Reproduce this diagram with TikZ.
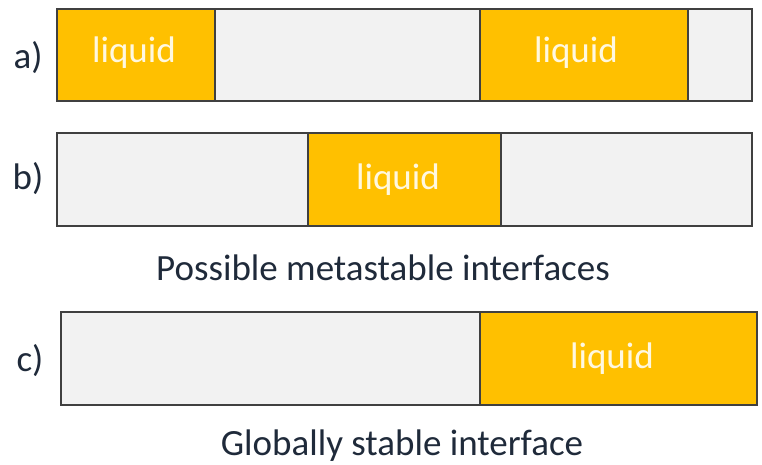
\documentclass[tikz,border=0pt]{standalone}
\usepackage{fontspec}
\setmainfont{Carlito}
\definecolor{liq}{HTML}{FFC000}
\definecolor{sol}{HTML}{F2F2F2}
\definecolor{edge}{HTML}{404040}
\definecolor{txt}{HTML}{1F2A3A}
\definecolor{liqtxt}{HTML}{FFF8E0}
\begin{document}
\begin{tikzpicture}[x=1pt,y=-1pt,
  bar/.style={draw=edge, line width=1.3pt, fill=sol, anchor=north west, inner sep=0pt, outer sep=0pt},
  liquidbox/.style={draw=edge, line width=1.3pt, fill=liq, anchor=north west, inner sep=0pt, outer sep=0pt},
  liqlabel/.style={text=liqtxt, inner sep=0pt, font=\fontsize{37}{42}\selectfont},
  lab/.style={text=txt, inner sep=0pt, font=\fontsize{37}{42}\selectfont}]
\useasboundingbox (0,0) rectangle (762,465);
% row a
\node[bar, minimum width=695pt, minimum height=92pt] (abar) at (57,9) {};
\node[liquidbox, minimum width=158pt, minimum height=92pt] (al1) at (57,9) {};
\node[liquidbox, minimum width=208pt, minimum height=92pt] (al2) at (480,9) {};
\node[liqlabel] (tal1) at (134,53) {liquid};
\node[liqlabel] (tal2) at (576,53) {liquid};
\node[lab] (la) at (28,58) {a)};
% row b
\node[bar, minimum width=695pt, minimum height=93pt] (bbar) at (57,133) {};
\node[liquidbox, minimum width=193pt, minimum height=93pt] (bl) at (308,133) {};
\node[liqlabel] (tbl) at (398,180) {liquid};
\node[lab] (lb) at (28,179) {b)};
\node[lab] (meta) at (383,268) {Possible metastable interfaces};
% row c
\node[bar, minimum width=696pt, minimum height=93pt] (cbar) at (61,312) {};
\node[liquidbox, minimum width=277pt, minimum height=93pt] (cl) at (480,312) {};
\node[liqlabel] (tcl) at (612,359) {liquid};
\node[lab] (lc) at (30,361) {c)};
\node[lab] (glob) at (402,446) {Globally stable interface};
\end{tikzpicture}
\end{document}
